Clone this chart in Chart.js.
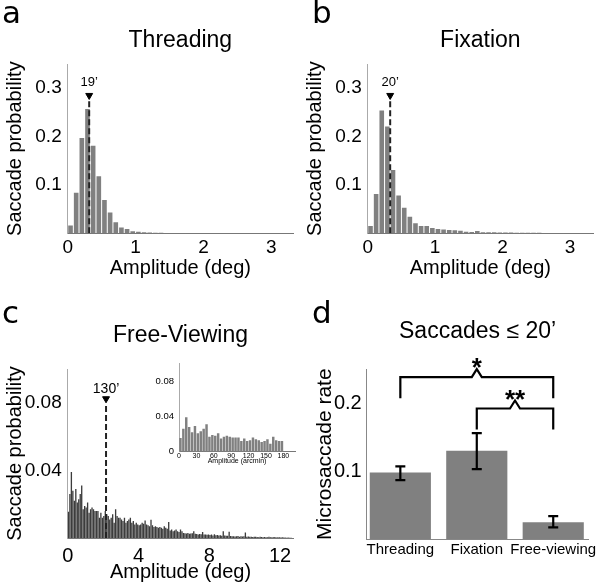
<!DOCTYPE html>
<html lang="en">
<head>
<meta charset="UTF-8">
<title>Saccade amplitude distributions</title>
<style>
  body { margin: 0; background: #fff; }
  #fig { position: relative; width: 600px; height: 583px; overflow: hidden; }
  #fig canvas { position: absolute; }
</style>
</head>
<body>
<div id="fig">
  <canvas id="chartA" width="300" height="290" style="left:0;top:0"></canvas>
  <canvas id="chartB" width="300" height="290" style="left:300px;top:0"></canvas>
  <canvas id="chartC" width="300" height="293" style="left:0;top:290px"></canvas>
  <canvas id="chartInset" width="155" height="130" style="left:145px;top:340px"></canvas>
  <canvas id="chartD" width="300" height="293" style="left:300px;top:290px"></canvas>
</div>

<script src="https://cdn.jsdelivr.net/npm/chart.js"></script>
<script>
  // histogram bins are 5 arcmin wide
  const binArcmin = 5

  const probThreading = [0.016, 0.084, 0.197, 0.257, 0.181, 0.118, 0.069, 0.043, 0.023, 0.012,
    0.009, 0.004, 0.003, 0.002, 0.0015, 0.001, 0.001, 0.0008, 0.0006, 0.0005,
    0.0004, 0.0004, 0.0003, 0.0003, 0.0002, 0.0002]

  const probFixation = [0.015, 0.081, 0.254, 0.221, 0.131, 0.078, 0.053, 0.034, 0.021, 0.015,
    0.015, 0.011, 0.009, 0.0076, 0.0069, 0.0062, 0.0055, 0.0034, 0.0028, 0.0048,
    0.0021, 0.002, 0.002, 0.0018, 0.0015, 0.0015, 0.0013, 0.0012, 0.001, 0.001,
    0.0009, 0.0008, 0.0008, 0.0007, 0.0007, 0.0006, 0.0006, 0.0005, 0.0005, 0.0004]

  const probFreeView = [
    0.0155, 0.026, 0.039, 0.028, 0.022, 0.029, 0.021, 0.023, 0.026, 0.031, 0.017, 0.019,
    0.018, 0.021, 0.015, 0.017, 0.018, 0.017, 0.016, 0.016, 0.016, 0.012, 0.015, 0.012,
    0.013, 0.016, 0.014, 0.013, 0.011, 0.012, 0.014, 0.009, 0.017, 0.013, 0.012, 0.012,
    0.011, 0.010, 0.012, 0.009, 0.010, 0.011, 0.012, 0.009, 0.010, 0.008, 0.009, 0.008,
    0.0075, 0.008, 0.009, 0.0085, 0.0104, 0.008, 0.0075, 0.007, 0.0108, 0.0075, 0.0065, 0.007,
    0.0065, 0.006, 0.0065, 0.006, 0.0055, 0.007, 0.006, 0.0055, 0.0095, 0.0045, 0.005, 0.004,
    0.0045, 0.005, 0.004, 0.0035, 0.005, 0.004, 0.003, 0.0028, 0.0026, 0.003, 0.0025, 0.0027,
    0.0028, 0.004, 0.0025, 0.0024, 0.002, 0.0024, 0.0022, 0.0035, 0.002, 0.0021, 0.0019, 0.002,
    0.0018, 0.002, 0.0015, 0.0022, 0.0016, 0.0018, 0.0015, 0.0017, 0.0014, 0.004, 0.0015, 0.0013,
    0.0014, 0.0037, 0.0012, 0.001, 0.0011, 0.0009, 0.001, 0.0012, 0.0008, 0.001, 0.0009, 0.0011,
    0.0033, 0.0008, 0.0009, 0.0007, 0.0008, 0.0006, 0.0007, 0.0008, 0.0006, 0.0005, 0.0007, 0.0006,
    0.0005, 0.0006, 0.0004, 0.0005, 0.0007, 0.0004, 0.0005, 0.0004, 0.0006, 0.0003, 0.0004, 0.0005,
    0.0003, 0.0004, 0.0003, 0.0003, 0.0002, 0.0003, 0.0002, 0.0002]

  // inset: first 3 degrees of the free-viewing histogram, in arcmin
  const insetFreeView = probFreeView.slice(0, 36)

  // median amplitudes (arcmin)
  const medianThreading = 19
  const medianFixation = 20
  const medianFreeView = 130

  const tasks = ['Threading', 'Fixation', 'Free-viewing']
  const rate = [0.098, 0.130, 0.025]
  const rateLow = [0.087, 0.103, 0.0175]
  const rateHigh = [0.107, 0.156, 0.034]
  const sigPairs = [[0, 2, '*'], [1, 2, '**']]

  Chart.defaults.font.family = '"Liberation Sans", Arial, sans-serif'
  Chart.defaults.color = '#000'

  const panelLetter = {
    id: 'panelLetter',
    afterDraw(chart, args, opts) {
      if (!opts.text) return
      const ctx = chart.ctx
      ctx.save()
      ctx.font = '31px "DejaVu Sans"'
      ctx.fillStyle = '#000'
      ctx.textBaseline = 'alphabetic'
      ctx.fillText(opts.text, opts.x, opts.y)
      ctx.restore()
    }
  }

  const markLabel = {
    id: 'markLabel',
    afterDatasetsDraw(chart, args, opts) {
      if (!opts.text) return
      const { ctx, scales: { x, y } } = chart
      ctx.save()
      ctx.font = opts.size + 'px "Liberation Sans", Arial'
      ctx.fillStyle = '#000'
      ctx.textAlign = 'center'
      ctx.textBaseline = 'middle'
      ctx.fillText(opts.text, x.getPixelForValue(opts.x), y.getPixelForValue(opts.y))
      ctx.restore()
    }
  }

  Chart.register(panelLetter, markLabel)

  function histChart(id, o) {
    const mx = o.mark / 60
    const bars = o.values.map((v, i) => ({ x: (i + 0.5) * binArcmin / 60, y: v }))
    return new Chart(document.getElementById(id), {
      type: 'bar',
      data: {
        datasets: [
          {
            type: 'line',
            data: [{ x: mx, y: 0 }, { x: mx, y: o.lineTop }],
            borderColor: '#222',
            borderWidth: 2,
            borderDash: [6, 3],
            pointRadius: 0,
            order: 0
          },
          {
            type: 'line',
            data: [{ x: mx, y: o.tri }],
            showLine: false,
            pointStyle: 'triangle',
            rotation: 180,
            pointRadius: 4,
            backgroundColor: '#000',
            borderColor: '#000',
            order: 0
          },
          {
            data: bars,
            backgroundColor: o.color,
            barPercentage: o.barPct,
            categoryPercentage: 1,
            order: 1
          }
        ]
      },
      options: {
        responsive: false,
        animation: false,
        layout: { padding: { left: 0, top: 0, right: o.padRight, bottom: 0 } },
        plugins: {
          legend: { display: false },
          tooltip: { enabled: false },
          title: {
            display: true,
            text: o.title,
            fullSize: false,
            font: { size: 23, weight: 'normal' },
            padding: o.titlePad
          },
          panelLetter: o.letter,
          markLabel: { text: o.mark + '’', x: mx, y: o.labelY, size: o.labelSize }
        },
        scales: {
          x: {
            type: 'linear',
            min: 0,
            max: o.xMax,
            offset: false,
            grid: { display: false, drawTicks: false },
            border: { color: '#777' },
            ticks: { stepSize: o.xStep, includeBounds: false, padding: o.xPad, font: { size: o.xFont }, maxRotation: 0, autoSkip: false },
            title: { display: true, text: 'Amplitude (deg)', font: { size: 20 }, padding: { top: 0, bottom: o.xTitlePad } },
            afterFit: s => { s.height = o.xH }
          },
          y: {
            min: 0,
            max: o.yMax,
            grid: { display: false, drawTicks: false },
            border: { color: '#aaa' },
            ticks: { stepSize: o.yStep, includeBounds: false, padding: 6, font: { size: 19 }, callback: v => v === 0 ? '' : String(v) },
            title: { display: true, text: 'Saccade probability', font: { size: 20 }, padding: { top: 3, bottom: 0 } },
            afterFit: s => { s.width = 67.7 }
          }
        }
      }
    })
  }

  histChart('chartA', {
    values: probThreading, mark: medianThreading, title: 'Threading',
    color: '#808080', barPct: 0.82, lineTop: 0.275, tri: 0.285, labelY: 0.311, labelSize: 13,
    xMax: 3.32, xStep: 1, yMax: 0.35, yStep: 0.1, padRight: 7,
    titlePad: { top: 27.2, bottom: 9.2 }, xH: 56.7, xPad: 3, xFont: 19, xTitlePad: 10,
    letter: { text: 'a', x: 2, y: 23 }
  })

  histChart('chartB', {
    values: probFixation, mark: medianFixation, title: 'Fixation',
    color: '#808080', barPct: 0.82, lineTop: 0.275, tri: 0.285, labelY: 0.312, labelSize: 13,
    xMax: 3.34, xStep: 1, yMax: 0.35, yStep: 0.1, padRight: 7,
    titlePad: { top: 27.2, bottom: 9.2 }, xH: 56.7, xPad: 3, xFont: 19, xTitlePad: 10,
    letter: { text: 'b', x: 12, y: 23 }
  })

  histChart('chartC', {
    values: probFreeView, mark: medianFreeView, title: 'Free-Viewing',
    color: '#3c3c3c', barPct: 0.9, lineTop: 0.080, tri: 0.0824, labelY: 0.088, labelSize: 14,
    xMax: 12.75, xStep: 4, yMax: 0.1, yStep: 0.04, padRight: 6.7,
    titlePad: { top: 31.5, bottom: 19.9 }, xH: 45, xPad: 6, xFont: 20, xTitlePad: -1.5,
    letter: { text: 'c', x: 2, y: 33 }
  })

  new Chart(document.getElementById('chartInset'), {
    type: 'bar',
    data: {
      datasets: [{
        data: insetFreeView.map((v, i) => ({ x: (i + 0.5) * binArcmin, y: v })),
        backgroundColor: '#808080',
        barPercentage: 0.85,
        categoryPercentage: 1
      }]
    },
    options: {
      responsive: false,
      animation: false,
      layout: { padding: { left: 0, top: 23.3, right: 5, bottom: 0 } },
      plugins: { legend: { display: false }, tooltip: { enabled: false } },
      scales: {
        x: {
          type: 'linear', min: 0, max: 200, offset: false,
          grid: { display: false, drawTicks: false },
          border: { color: '#777' },
          ticks: { stepSize: 30, includeBounds: false, padding: 0, font: { size: 7 }, maxRotation: 0, autoSkip: false },
          title: { display: true, text: 'Amplitude (arcmin)', font: { size: 7 }, padding: { top: 0, bottom: 4.8 } },
          afterFit: s => { s.height = 18.3 }
        },
        y: {
          min: 0, max: 0.1,
          grid: { display: false, drawTicks: false },
          border: { color: '#aaa' },
          ticks: { stepSize: 0.04, includeBounds: false, padding: 5, font: { size: 9.5 }, callback: v => String(v) },
          afterFit: s => { s.width = 34 }
        }
      }
    }
  })

  const rateMarks = {
    id: 'rateMarks',
    afterDatasetsDraw(chart) {
      const { ctx, scales: { x, y } } = chart
      ctx.save()
      ctx.strokeStyle = '#000'
      ctx.lineWidth = 2.2
      // error bars
      rate.forEach((v, i) => {
        const px = x.getPixelForValue(i)
        const lo = y.getPixelForValue(rateLow[i])
        const hi = y.getPixelForValue(rateHigh[i])
        ctx.beginPath()
        ctx.moveTo(px, lo); ctx.lineTo(px, hi)
        ctx.moveTo(px - 5, lo); ctx.lineTo(px + 5, lo)
        ctx.moveTo(px - 5, hi); ctx.lineTo(px + 5, hi)
        ctx.stroke()
      })
      // significance brackets
      const levels = [0.238, 0.192]
      sigPairs.forEach(([a, b, label], k) => {
        const x0 = x.getPixelForValue(a)
        const x1 = x.getPixelForValue(b)
        const xm = (x0 + x1) / 2
        const yh = y.getPixelForValue(levels[k])
        const yl = yh + 21
        const yp = yh - 8
        ctx.beginPath()
        ctx.moveTo(x0, yl); ctx.lineTo(x0, yh); ctx.lineTo(xm - 5, yh); ctx.lineTo(xm, yp)
        ctx.lineTo(xm + 5, yh); ctx.lineTo(x1, yh); ctx.lineTo(x1, yl)
        ctx.stroke()
        ctx.font = 'bold 26px "Liberation Sans", Arial'
        ctx.fillStyle = '#000'
        ctx.textAlign = 'center'
        ctx.textBaseline = 'alphabetic'
        ctx.fillText(label, xm, yp - 8 + 15)
      })
      ctx.restore()
    }
  }

  new Chart(document.getElementById('chartD'), {
    type: 'bar',
    data: {
      datasets: [{
        data: rate.map((v, i) => ({ x: i, y: v })),
        backgroundColor: '#808080',
        barPercentage: 0.8,
        categoryPercentage: 1
      }]
    },
    options: {
      responsive: false,
      animation: false,
      layout: { padding: { left: 0, top: 0, right: 8.3, bottom: 0 } },
      plugins: {
        legend: { display: false },
        tooltip: { enabled: false },
        title: {
          display: true,
          text: 'Saccades ≤ 20’',
          fullSize: false,
          font: { size: 23, weight: 'normal' },
          padding: { top: 27.5, bottom: 23.9 }
        },
        panelLetter: { text: 'd', x: 12, y: 33 }
      },
      scales: {
        x: {
          type: 'linear', min: -0.44, max: 2.46, offset: false,
          grid: { display: false, drawTicks: false },
          border: { color: '#888' },
          ticks: { stepSize: 1, includeBounds: false, padding: 2, font: { size: 15 }, maxRotation: 0, autoSkip: false,
            callback: v => tasks[v] || '' },
          afterFit: s => { s.height = 43.7 }
        },
        y: {
          min: 0, max: 0.25,
          grid: { display: false, drawTicks: false },
          border: { color: '#888' },
          ticks: { stepSize: 0.1, includeBounds: false, padding: 5, font: { size: 20 }, callback: v => v === 0 ? '' : String(v) },
          title: { display: true, text: 'Microsaccade rate', font: { size: 21 }, padding: { top: 12.4, bottom: 0 } },
          afterFit: s => { s.width = 66.7 }
        }
      }
    },
    plugins: [rateMarks]
  })
</script>
</body>
</html>
